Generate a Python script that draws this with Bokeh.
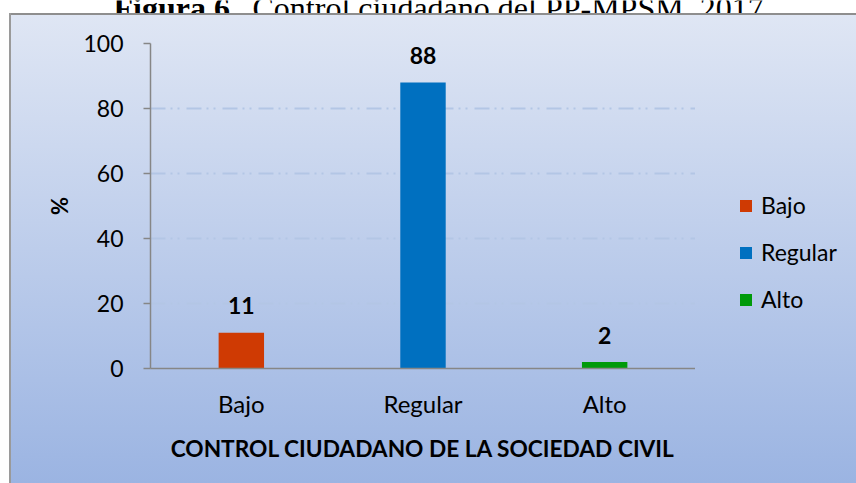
from bokeh.plotting import figure
from bokeh.layouts import column, row
from bokeh.models import (ColumnDataSource, FactorRange, Range1d, FixedTicker,
                          Legend, LegendItem)
from bokeh.embed import file_html
from bokeh.resources import INLINE
from bokeh.core.properties import value, field

# ---- data ----
categories = ["Bajo", "Regular", "Alto"]
percentages = [11, 88, 2]
bar_colors = ["#cf3a03", "#0070c0", "#009a0a"]
y_ticks = [0, 20, 40, 60, 80, 100]
title_bold = "Figura 6."
title_rest = "Control ciudadano del PP-MPSM, 2017."
x_title = "CONTROL CIUDADANO DE LA SOCIEDAD CIVIL"
y_title = "%"

FONT = "Lato"
SERIF = "Liberation Serif"

GRAD = ("linear-gradient(to bottom, #8e8e8e 0px, #8e8e8e 2px, #dfe6f4 2px, "
        "#9bb4e2 100%)")
LEFT_WHITE = "linear-gradient(#ffffff,#ffffff) 0px 0px / 9px 100% no-repeat"
LEFT_BORDER = "linear-gradient(#9a9a9a,#9a9a9a) 9px 0px / 2px 100% no-repeat"

src = ColumnDataSource(dict(
    cat=categories,
    val=percentages,
    color=bar_colors,
    txt=[str(v) for v in percentages],
))

# ---------- title strip (cut off at the top, as in the reference) ----------
TW, TH = 856, 13
pt = figure(width=TW, height=TH, x_range=Range1d(0, TW), y_range=Range1d(0, TH),
            output_backend="svg", toolbar_location=None,
            x_axis_location=None, y_axis_location=None,
            min_border=0, min_border_left=0, min_border_right=0,
            min_border_top=0, min_border_bottom=0)
pt.grid.visible = False
pt.outline_line_color = None
pt.background_fill_color = "#ffffff"
pt.border_fill_color = "#ffffff"
tsrc = ColumnDataSource(dict(x=[113, 252], y=[6, 6], t=[title_bold, title_rest],
                             s=["bold", "normal"]))
pt.text(x="x", y="y", text="t", source=tsrc, text_font=value(SERIF),
        text_font_style="s", text_font_size="32px", text_baseline="alphabetic",
        text_align="left", text_color="#000000")

# ---------- main chart ----------
p = figure(
    width=695, height=470,
    x_range=FactorRange(factors=categories, range_padding=0),
    y_range=Range1d(0, 100),
    output_backend="svg", toolbar_location=None,
    min_border_left=150, min_border_right=0,
    min_border_top=30, min_border_bottom=115,
)
p.styles = {"background": LEFT_WHITE + ", " + LEFT_BORDER + ", " + GRAD}
p.background_fill_alpha = 0
p.border_fill_alpha = 0
p.outline_line_color = None

bars = p.vbar(x="cat", top="val", width=0.25, source=src, fill_color="color",
              line_color=None)
p.text(x="cat", y="val", text="txt", source=src, text_align="center",
       text_baseline="alphabetic", y_offset=-27, text_font=value(FONT),
       text_font_style="bold", text_font_size="23px", text_color="#000000")

ya = p.yaxis[0]
ya.ticker = FixedTicker(ticks=y_ticks)
ya.axis_line_color = "#868686"
ya.axis_line_width = 1.5
ya.major_tick_line_color = "#868686"
ya.major_tick_line_width = 1.5
ya.major_tick_in = 0
ya.major_tick_out = 7
ya.minor_tick_line_color = None
ya.major_label_standoff = 20
ya.major_label_text_font = FONT
ya.major_label_text_font_size = "23px"
ya.major_label_text_color = "#000000"
ya.axis_label = y_title
ya.axis_label_text_font = FONT
ya.axis_label_text_font_style = "bold"
ya.axis_label_text_font_size = "22px"
ya.axis_label_text_color = "#000000"
ya.axis_label_standoff = 7

xa = p.xaxis[0]
xa.axis_line_color = "#868686"
xa.axis_line_width = 1.5
xa.major_tick_line_color = None
xa.minor_tick_line_color = None
xa.major_label_standoff = 14
xa.major_label_text_font = FONT
xa.major_label_text_font_size = "24px"
xa.major_label_text_color = "#000000"
xa.axis_label = x_title
xa.axis_label_text_font = FONT
xa.axis_label_text_font_style = "bold"
xa.axis_label_text_font_size = "22.7px"
xa.axis_label_text_color = "#000000"
xa.axis_label_standoff = 14

p.xgrid.grid_line_color = None
p.ygrid.ticker = FixedTicker(ticks=y_ticks)
p.ygrid.grid_line_color = "#b3c6e5"
p.ygrid.grid_line_width = 2
p.ygrid.grid_line_dash = "15 5 2 5 2 7"

# ---------- legend panel ----------
pl = figure(width=161, height=470,
            x_range=FactorRange(factors=categories, range_padding=0),
            y_range=Range1d(1000, 1001),
            output_backend="svg", toolbar_location=None,
            x_axis_location=None, y_axis_location=None,
            min_border=0, min_border_left=0, min_border_right=0,
            min_border_top=0, min_border_bottom=0)
pl.styles = {"background": GRAD}
pl.background_fill_alpha = 0
pl.border_fill_alpha = 0
pl.outline_line_color = None
pl.grid.visible = False
lbars = pl.vbar(x="cat", top="val", width=0.0, source=src, fill_color="color",
                line_color=None)
leg = Legend(items=[LegendItem(label=field("cat"), renderers=[lbars])])
leg.location = (43, 55)
leg.background_fill_alpha = 0
leg.border_line_color = None
leg.padding = 0
leg.margin = 0
leg.spacing = 19
leg.label_height = 26
leg.glyph_height = 15
leg.glyph_width = 15
leg.label_standoff = 8
leg.label_text_font = FONT
leg.label_text_font_size = "23px"
leg.label_text_color = "#000000"
pl.add_layout(leg, "center")

layout = column(pt, row(p, pl, spacing=0), spacing=0)
open("out.html", "w").write(file_html(layout, INLINE))
